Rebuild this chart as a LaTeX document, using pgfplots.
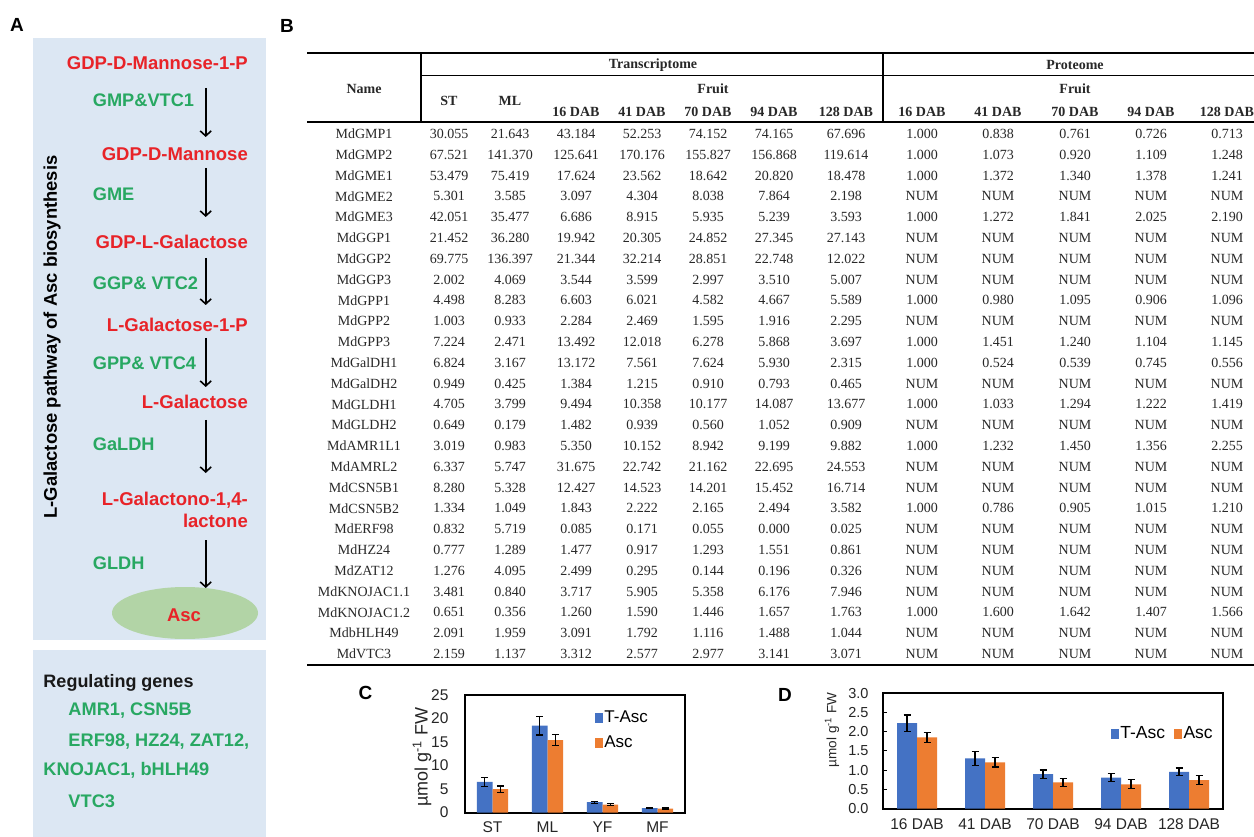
\documentclass[border=0pt]{standalone}
\usepackage{fontspec}
\setmainfont{Liberation Sans}
\newfontfamily\tnr{Liberation Serif}
\usepackage{pgfplots}
\pgfplotsset{compat=1.18}
\usetikzlibrary{arrows.meta}
\definecolor{boxblue}{RGB}{220,231,243}
\definecolor{pred}{RGB}{232,35,40}
\definecolor{pgreen}{RGB}{40,168,98}
\definecolor{ellg}{RGB}{178,212,166}
\definecolor{tabtxt}{RGB}{40,40,40}
\definecolor{xblue}{RGB}{68,114,196}
\definecolor{xorange}{RGB}{237,125,49}
\begin{document}
\begin{tikzpicture}
\begin{scope}[x=1bp,y=-1bp]
\useasboundingbox (0,0) rectangle (1254,836);
\fill[white] (0,0) rectangle (1254,836);
\tikzset{
 rt/.style={text=pred, font=\bfseries\fontsize{18.5bp}{20bp}\selectfont, anchor=east, inner sep=0pt},
 gt/.style={text=pgreen, font=\bfseries\fontsize{18.2bp}{20bp}\selectfont, anchor=west, inner sep=0pt},
 arr/.style={line width=1.6bp, -{Straight Barb[length=5bp,width=11bp]}},
 td/.style={text=tabtxt, font=\tnr\fontsize{14bp}{15bp}\selectfont, inner sep=0pt, anchor=center},
 th/.style={text=tabtxt, font=\tnr\bfseries\fontsize{14bp}{15bp}\selectfont, inner sep=0pt, anchor=center},
 pl/.style={font=\bfseries\fontsize{19bp}{20bp}\selectfont, inner sep=0pt}
}
% ---------- Panel A ----------
\node[pl] at (17,25) {A};
\fill[boxblue] (33,38) rectangle (266,640);
\fill[boxblue] (33,650) rectangle (266,840);
\node[rotate=90, font=\bfseries\fontsize{18.4bp}{20bp}\selectfont, inner sep=0pt] at (52,337) {L-Galactose pathway of Asc biosynthesis};
\node[rt] at (248,63.3) {GDP-D-Mannose-1-P};
\node[rt] at (248,154) {GDP-D-Mannose};
\node[rt] at (248,241.7) {GDP-L-Galactose};
\node[rt] at (248,325) {L-Galactose-1-P};
\node[rt] at (248,401.7) {L-Galactose};
\node[rt] at (248,500) {L-Galactono-1,4-};
\node[rt] at (248,521) {lactone};
\node[gt] at (92.7,100) {GMP\&VTC1};
\node[gt] at (92.7,194) {GME};
\node[gt] at (92.7,283.3) {GGP\& VTC2};
\node[gt] at (92.7,363.3) {GPP\& VTC4};
\node[gt] at (92.7,444) {GaLDH};
\node[gt] at (92.7,563.3) {GLDH};
\draw[arr] (205.7,88) -- (205.7,137);
\draw[arr] (205.7,168) -- (205.7,217);
\draw[arr] (205.7,258) -- (205.7,305);
\draw[arr] (205.7,338) -- (205.7,387);
\draw[arr] (205.7,420) -- (205.7,473);
\draw[arr] (205.7,540) -- (205.7,588);
\fill[ellg] (185,613) ellipse [x radius=73, y radius=26];
\node[text=pred, font=\bfseries\fontsize{18.5bp}{20bp}\selectfont] at (184,615) {Asc};
\node[anchor=west, inner sep=0pt, text=black!90, font=\bfseries\fontsize{18bp}{20bp}\selectfont] at (43.3,683.3) {Regulating genes};
\node[gt] at (68.3,710.7) {AMR1, CSN5B};
\node[gt] at (68.3,741.7) {ERF98, HZ24, ZAT12,};
\node[gt] at (43.3,770.7) {KNOJAC1, bHLH49};
\node[gt] at (68.3,801.7) {VTC3};
% ---------- Panel B ----------
\node[pl] at (287,26) {B};
\draw[line width=2bp] (307,53) -- (1254,53);
\draw[line width=1.3bp] (421,53) -- (421,122);
\draw[line width=1.3bp] (883,53) -- (883,122);
\draw[line width=1bp] (421,75.5) -- (1254,75.5);
\draw[line width=2bp] (307,122) -- (1254,122);
\draw[line width=2.6bp] (307,665) -- (1254,665);
\node[th] at (653,65) {Transcriptome};
\node[th] at (1075,65) {Proteome};
\node[th] at (364,89) {Name};
\node[th] at (449,101) {ST};
\node[th] at (510,101) {ML};
\node[th] at (713,89) {Fruit};
\node[th] at (1075,89) {Fruit};
\foreach \xx/\lab in {576/16 DAB,642/41 DAB,708/70 DAB,774/94 DAB,846/128 DAB,922/16 DAB,998/41 DAB,1075/70 DAB,1151/94 DAB,1227/128 DAB}
 {\node[th] at (\xx,112) {\lab};}
\foreach \nm/\sa/\sb/\ta/\tb/\tc/\td/\te/\pa/\pb/\pc/\pd/\pe [count=\r from 0] in {
MdGMP1/30.055/21.643/43.184/52.253/74.152/74.165/67.696/1.000/0.838/0.761/0.726/0.713,
MdGMP2/67.521/141.370/125.641/170.176/155.827/156.868/119.614/1.000/1.073/0.920/1.109/1.248,
MdGME1/53.479/75.419/17.624/23.562/18.642/20.820/18.478/1.000/1.372/1.340/1.378/1.241,
MdGME2/5.301/3.585/3.097/4.304/8.038/7.864/2.198/NUM/NUM/NUM/NUM/NUM,
MdGME3/42.051/35.477/6.686/8.915/5.935/5.239/3.593/1.000/1.272/1.841/2.025/2.190,
MdGGP1/21.452/36.280/19.942/20.305/24.852/27.345/27.143/NUM/NUM/NUM/NUM/NUM,
MdGGP2/69.775/136.397/21.344/32.214/28.851/22.748/12.022/NUM/NUM/NUM/NUM/NUM,
MdGGP3/2.002/4.069/3.544/3.599/2.997/3.510/5.007/NUM/NUM/NUM/NUM/NUM,
MdGPP1/4.498/8.283/6.603/6.021/4.582/4.667/5.589/1.000/0.980/1.095/0.906/1.096,
MdGPP2/1.003/0.933/2.284/2.469/1.595/1.916/2.295/NUM/NUM/NUM/NUM/NUM,
MdGPP3/7.224/2.471/13.492/12.018/6.278/5.868/3.697/1.000/1.451/1.240/1.104/1.145,
MdGalDH1/6.824/3.167/13.172/7.561/7.624/5.930/2.315/1.000/0.524/0.539/0.745/0.556,
MdGalDH2/0.949/0.425/1.384/1.215/0.910/0.793/0.465/NUM/NUM/NUM/NUM/NUM,
MdGLDH1/4.705/3.799/9.494/10.358/10.177/14.087/13.677/1.000/1.033/1.294/1.222/1.419,
MdGLDH2/0.649/0.179/1.482/0.939/0.560/1.052/0.909/NUM/NUM/NUM/NUM/NUM,
MdAMR1L1/3.019/0.983/5.350/10.152/8.942/9.199/9.882/1.000/1.232/1.450/1.356/2.255,
MdAMRL2/6.337/5.747/31.675/22.742/21.162/22.695/24.553/NUM/NUM/NUM/NUM/NUM,
MdCSN5B1/8.280/5.328/12.427/14.523/14.201/15.452/16.714/NUM/NUM/NUM/NUM/NUM,
MdCSN5B2/1.334/1.049/1.843/2.222/2.165/2.494/3.582/1.000/0.786/0.905/1.015/1.210,
MdERF98/0.832/5.719/0.085/0.171/0.055/0.000/0.025/NUM/NUM/NUM/NUM/NUM,
MdHZ24/0.777/1.289/1.477/0.917/1.293/1.551/0.861/NUM/NUM/NUM/NUM/NUM,
MdZAT12/1.276/4.095/2.499/0.295/0.144/0.196/0.326/NUM/NUM/NUM/NUM/NUM,
MdKNOJAC1.1/3.481/0.840/3.717/5.905/5.358/6.176/7.946/NUM/NUM/NUM/NUM/NUM,
MdKNOJAC1.2/0.651/0.356/1.260/1.590/1.446/1.657/1.763/1.000/1.600/1.642/1.407/1.566,
MdbHLH49/2.091/1.959/3.091/1.792/1.116/1.488/1.044/NUM/NUM/NUM/NUM/NUM,
MdVTC3/2.159/1.137/3.312/2.577/2.977/3.141/3.071/NUM/NUM/NUM/NUM/NUM}
{
 \pgfmathsetmacro\yy{134+20.8*\r}
 \node[td] at (364,\yy) {\nm};
 \node[td] at (449,\yy) {\sa};
 \node[td] at (510,\yy) {\sb};
 \node[td] at (576,\yy) {\ta};
 \node[td] at (642,\yy) {\tb};
 \node[td] at (708,\yy) {\tc};
 \node[td] at (774,\yy) {\td};
 \node[td] at (846,\yy) {\te};
 \node[td] at (922,\yy) {\pa};
 \node[td] at (998,\yy) {\pb};
 \node[td] at (1075,\yy) {\pc};
 \node[td] at (1151,\yy) {\pd};
 \node[td] at (1227,\yy) {\pe};
}
\node[pl] at (365.5,692.5) {C};
\node[pl] at (785,694.5) {D};
\end{scope}
% ---------- Panel C ----------
\begin{axis}[
 at={(465bp,-812.5bp)}, anchor=south west,
 scale only axis, width=220bp, height=117.5bp,
 xmin=-0.5, xmax=3.5, ymin=0, ymax=25,
 ytick={0,5,10,15,20,25},
 xtick={0,1,2,3}, xticklabels={ST,ML,YF,MF},
 axis line style={line width=2bp, black},
 major tick length=0pt,
 ybar=0pt, bar width=15.7bp,
 tick label style={font=\fontsize{15.5bp}{17bp}\selectfont, text=black!85},
 /pgf/number format/assume math mode=true,
 yticklabel style={xshift=-13bp},
 xticklabel style={yshift=-6bp},
 ylabel={µmol g\textsuperscript{-1} FW},
 ylabel style={at={(axis description cs:-0.195,0.47)}, anchor=center, font=\fontsize{18bp}{20bp}\selectfont, text=black!85},
 legend style={draw=none, fill=none, at={(axis description cs:0.59,0.885)}, anchor=north west, font=\fontsize{17bp}{18bp}\selectfont, row sep=8bp, inner sep=0pt},
 legend cell align=left,
 error bars/error bar style={line width=1.2bp, black},
 error bars/error mark options={rotate=90, mark size=3.5bp, line width=1.2bp, black},
]
\addlegendimage{legend image code/.code={\fill[xblue] (0bp,-4.5bp) rectangle (7bp,4.5bp);}}
\addlegendentry{T-Asc}
\addlegendimage{legend image code/.code={\fill[xorange] (0bp,-4.5bp) rectangle (7bp,4.5bp);}}
\addlegendentry{Asc}
\addplot[fill=xblue, draw=none, forget plot, bar shift=-7.85bp, error bars/.cd, y dir=both, y explicit]
 coordinates {(0,6.5) +- (0,1.0) (1,18.5) +- (0,2.0) (2,2.2) +- (0,0.2) (3,0.93) +- (0,0.1)};
\addplot[fill=xorange, draw=none, forget plot, bar shift=7.85bp, error bars/.cd, y dir=both, y explicit]
 coordinates {(0,4.96) +- (0,0.7) (1,15.4) +- (0,1.2) (2,1.7) +- (0,0.15) (3,0.85) +- (0,0.1)};
\end{axis}
% ---------- Panel D ----------
\begin{axis}[
 at={(883bp,-808.5bp)}, anchor=south west,
 scale only axis, width=340bp, height=115.5bp,
 xmin=-0.5, xmax=4.5, ymin=0, ymax=3,
 ytick={0,0.5,1,1.5,2,2.5,3},
 xtick={0,1,2,3,4}, xticklabels={16 DAB,41 DAB,70 DAB,94 DAB,128 DAB},
 axis line style={line width=2bp, black},
 ytick pos=left, xtick style={draw=none},
 major tick length=4bp, ytick style={line width=1bp, black},
 ybar=0pt, bar width=20bp,
 tick label style={font=\fontsize{15.5bp}{17bp}\selectfont, text=black!85},
 yticklabel style={font=\fontsize{14.5bp}{16bp}\selectfont, xshift=-11bp, /pgf/number format/fixed, /pgf/number format/fixed zerofill, /pgf/number format/precision=1},
 /pgf/number format/assume math mode=true,
 xticklabel style={yshift=-3bp},
 ylabel={µmol g\textsuperscript{-1} FW},
 ylabel style={at={(axis description cs:-0.15,0.68)}, anchor=center, font=\fontsize{13.5bp}{15bp}\selectfont, text=black!85},
 legend style={draw=none, fill=none, at={(axis description cs:0.67,0.65)}, anchor=west, font=\fontsize{17.5bp}{18bp}\selectfont, inner sep=0pt, /tikz/every even column/.append style={column sep=7bp}},
 legend columns=2,
 error bars/error bar style={line width=1.2bp, black},
 error bars/error mark options={rotate=90, mark size=3.5bp, line width=1.2bp, black},
]
\addlegendimage{legend image code/.code={\fill[xblue] (0bp,-4.5bp) rectangle (7bp,4.5bp);}}
\addlegendentry{T-Asc}
\addlegendimage{legend image code/.code={\fill[xorange] (0bp,-4.5bp) rectangle (7bp,4.5bp);}}
\addlegendentry{Asc}
\addplot[fill=xblue, draw=none, forget plot, bar shift=-10bp, error bars/.cd, y dir=both, y explicit]
 coordinates {(0,2.22) +- (0,0.21) (1,1.30) +- (0,0.18) (2,0.89) +- (0,0.11) (3,0.80) +- (0,0.10) (4,0.95) +- (0,0.10)};
\addplot[fill=xorange, draw=none, forget plot, bar shift=10bp, error bars/.cd, y dir=both, y explicit]
 coordinates {(0,1.85) +- (0,0.13) (1,1.20) +- (0,0.12) (2,0.68) +- (0,0.10) (3,0.63) +- (0,0.12) (4,0.74) +- (0,0.11)};
\end{axis}
\end{tikzpicture}
\end{document}
